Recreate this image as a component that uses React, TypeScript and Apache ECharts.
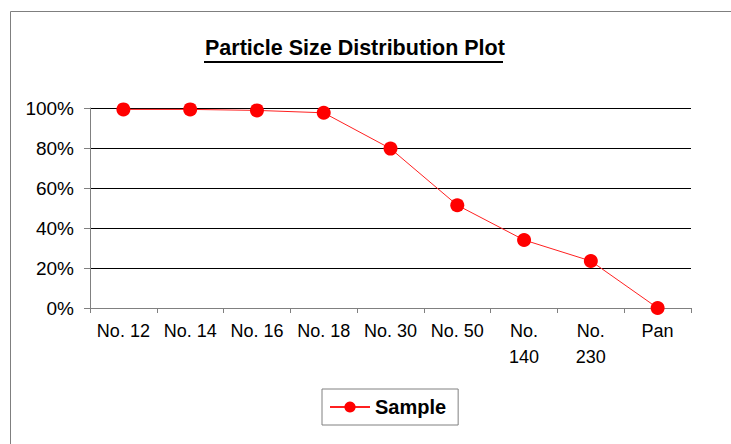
import React, { useEffect, useRef } from "react";
import * as echarts from "echarts";

const categories = ["No. 12", "No. 14", "No. 16", "No. 18", "No. 30", "No. 50", "No. 140", "No. 230", "Pan"];
const sampleValues = [99.3, 99.3, 98.8, 97.6, 79.7, 51.4, 34.0, 23.5, 0];
const seriesName = "Sample";
const titleText = "Particle Size Distribution Plot";

const FONT = "'Liberation Sans', Arial, Helvetica, sans-serif";

export default function App() {
  const ref = useRef<HTMLDivElement>(null);
  useEffect(() => {
    if (!ref.current) return;
    const chart = echarts.init(ref.current, null, { renderer: "svg" });
    chart.setOption({
      animation: false,
      backgroundColor: "#ffffff",
      title: {
        text: titleText,
        left: 205,
        top: 37,
        padding: 0,
        textStyle: { fontFamily: FONT, fontSize: 21.5, fontWeight: "bold", color: "#000" },
      },
      graphic: [
        {
          type: "rect",
          shape: { x: 10.5, y: 11.5, width: 900, height: 600 },
          style: { fill: "none", stroke: "#7f7f7f", lineWidth: 1 },
          silent: true,
        },
        {
          type: "line",
          shape: { x1: 204, y1: 62, x2: 503, y2: 62 },
          style: { stroke: "#000", lineWidth: 2 },
          silent: true,
        },
      ],
      legend: {
        left: 322,
        top: 389,
        padding: [8, 12, 8, 7],
        borderColor: "#808080",
        borderWidth: 1,
        itemWidth: 40,
        itemHeight: 14,
        itemGap: 5,
        textStyle: { fontFamily: FONT, fontSize: 20, fontWeight: "bold", color: "#000", padding: [0, 0, 0, 0] },
        data: [seriesName],
      },
      grid: { left: 90, right: 40, top: 108, bottom: 136 },
      xAxis: {
        type: "category",
        data: categories,
        boundaryGap: true,
        axisLine: { show: true, lineStyle: { color: "#808080", width: 1 } },
        axisTick: { show: true, length: 5, lineStyle: { color: "#808080" } },
        axisLabel: {
          fontFamily: FONT,
          fontSize: 18,
          color: "#000",
          margin: 10,
          lineHeight: 26,
          interval: 0,
          formatter: (v: string) => (v.length > 6 ? v.replace(" ", "\n") : v),
        },
        splitLine: { show: false },
      },
      yAxis: {
        type: "value",
        min: 0,
        max: 100,
        interval: 20,
        axisLine: { show: true, lineStyle: { color: "#808080", width: 1 } },
        axisTick: { show: true, length: 6, lineStyle: { color: "#808080" } },
        axisLabel: {
          fontFamily: FONT,
          fontSize: 19,
          color: "#000",
          margin: 16,
          formatter: "{value}%",
        },
        splitLine: { show: true, lineStyle: { color: "#000", width: 1 } },
      },
      series: [
        {
          name: seriesName,
          type: "line",
          data: sampleValues,
          symbol: "circle",
          symbolSize: 14,
          itemStyle: { color: "#ff0000" },
          lineStyle: { color: "#ff2020", width: 1 },
        },
      ],
    });
    return () => chart.dispose();
  }, []);
  return (
    <div
      ref={ref}
      style={{ position: "absolute", left: 0, top: 0, width: 731, height: 444 }}
    />
  );
}
